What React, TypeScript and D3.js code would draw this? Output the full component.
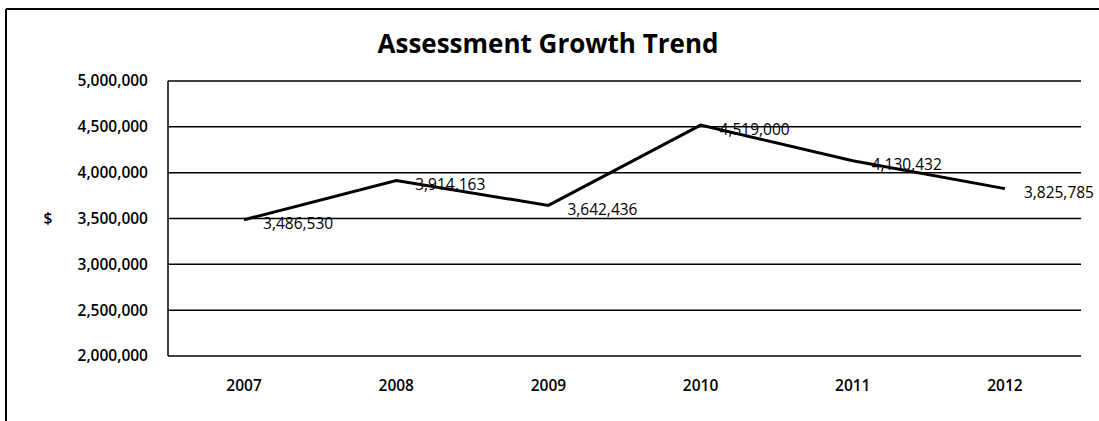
import React from "react";
import * as d3 from "d3";

const years = ["2007", "2008", "2009", "2010", "2011", "2012"];
const values = [3486530, 3914163, 3642436, 4519000, 4130432, 3825785];
const yTicks = [2000000, 2500000, 3000000, 3500000, 4000000, 4500000, 5000000];
const title = "Assessment Growth Trend";
const axisTitle = "$";

const W = 1099;
const H = 421;
const plot = { left: 168, right: 1081, top: 81, bottom: 356 };
const FONT = "'Open Sans', 'Noto Sans', sans-serif";

export default function App() {
  const x = d3.scaleBand<string>().domain(years).range([plot.left, plot.right]);
  const y = d3.scaleLinear().domain([2000000, 5000000]).range([plot.bottom, plot.top]);
  const fmt = d3.format(",");
  const cx = (yr: string) => (x(yr) as number) + x.bandwidth() / 2;
  const line = d3
    .line<number>()
    .x((_, i) => cx(years[i]))
    .y((v) => y(v));

  return (
    <div style={{ position: "fixed", left: 0, top: 0, width: W, height: H, overflow: "hidden" }}>
      <svg width={W} height={H} style={{ display: "block", background: "#fff" }} fontFamily={FONT}>
        <rect x={0} y={0} width={W} height={H} fill="#fff" />
        {/* outer chart frame (top and left edges visible) */}
        <line x1={6} x2={W} y1={9} y2={9} stroke="#000" strokeWidth={2} />
        <line x1={6} x2={6} y1={9} y2={H} stroke="#000" strokeWidth={2} />
        <text x={548} y={53} textAnchor="middle" fontSize={26} fontWeight={700} fill="#000">
          {title}
        </text>
        {/* gridlines */}
        {yTicks.map((t) => (
          <line key={t} x1={plot.left} x2={plot.right} y1={y(t)} y2={y(t)} stroke="#000" strokeWidth={1.5} />
        ))}
        <line x1={plot.left} x2={plot.left} y1={plot.top} y2={plot.bottom} stroke="#000" strokeWidth={1.5} />
        {/* y tick labels */}
        {yTicks.map((t) => (
          <text
            key={"l" + t}
            x={148}
            y={y(t)}
            dy="0.35em"
            textAnchor="end"
            fontSize={15.5}
            fontWeight={600}
            fill="#000"
          >
            {fmt(t)}
          </text>
        ))}
        <text x={48} y={y(3500000)} dy="0.35em" textAnchor="middle" fontSize={15.5} fontWeight={600} fill="#000">
          {axisTitle}
        </text>
        {/* x labels */}
        {years.map((yr) => (
          <text key={yr} x={cx(yr)} y={386} dy="0.35em" textAnchor="middle" fontSize={15.5} fontWeight={600} fill="#000">
            {yr}
          </text>
        ))}
        {/* series line */}
        <path d={line(values) || ""} fill="none" stroke="#000" strokeWidth={3} strokeLinejoin="miter" />
        {/* data labels */}
        {values.map((v, i) => (
          <text
            key={"d" + i}
            x={cx(years[i]) + 19}
            y={y(v) + 4}
            dy="0.35em"
            textAnchor="start"
            fontSize={15.5}
            fill="#000"
          >
            {fmt(v)}
          </text>
        ))}
      </svg>
    </div>
  );
}
